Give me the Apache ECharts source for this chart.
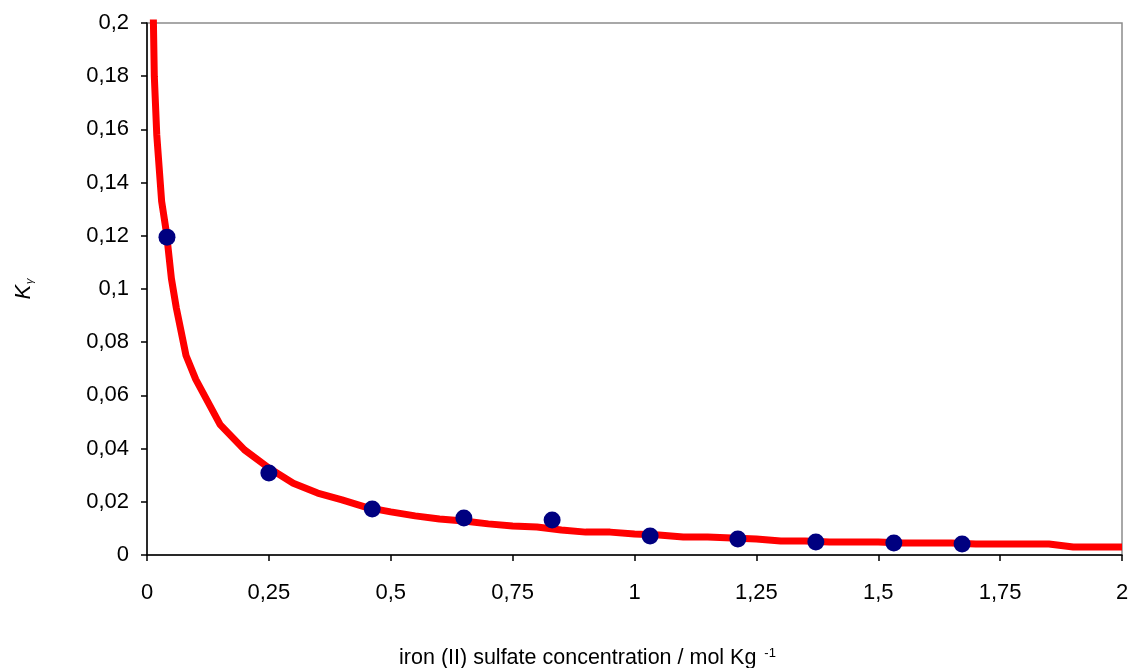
<!DOCTYPE html>
<html>
<head>
<meta charset="utf-8">
<title>K gamma vs iron (II) sulfate concentration</title>
<script src="https://cdn.jsdelivr.net/npm/echarts@6/dist/echarts.min.js"></script>
<style>
  html, body { margin: 0; padding: 0; background: #fff; }
  #chart { width: 1134px; height: 668px; }
</style>
</head>
<body>
<div id="chart"></div>
<script>
// fitted curve (red line)
var curveX = [0.01, 0.015, 0.02, 0.03, 0.04, 0.05, 0.06, 0.07, 0.08, 0.1, 0.15, 0.2, 0.25, 0.3, 0.35, 0.4, 0.45, 0.5,
  0.55, 0.6, 0.65, 0.7, 0.75, 0.8, 0.85, 0.9, 0.95, 1.0, 1.05, 1.1, 1.15, 1.2, 1.25, 1.3, 1.35, 1.4, 1.45, 1.5,
  1.55, 1.6, 1.65, 1.7, 1.75, 1.8, 1.85, 1.9, 1.95, 2.0]
var curveY = [0.235, 0.18, 0.158, 0.133, 0.121, 0.104, 0.093, 0.084, 0.075, 0.066, 0.049, 0.0395, 0.0327, 0.027, 0.0233, 0.0207, 0.0179, 0.0162,
  0.0147, 0.0135, 0.0128, 0.0117, 0.0109, 0.0105, 0.0094, 0.0086, 0.0086, 0.0079, 0.0075, 0.0068, 0.0068, 0.0064, 0.006, 0.0053, 0.0053, 0.0049, 0.0049, 0.0049,
  0.0045, 0.0045, 0.0045, 0.0041, 0.0041, 0.0041, 0.0041, 0.003, 0.003, 0.003]

// measured points (navy dots)
var pointX = [0.041, 0.25, 0.462, 0.65, 0.831, 1.032, 1.212, 1.372, 1.532, 1.672]
var pointY = [0.1195, 0.0308, 0.0173, 0.0139, 0.0132, 0.0071, 0.006, 0.0049, 0.0045, 0.0041]

function comma(v) {
  return parseFloat(v.toFixed(4)).toString().replace('.', ',')
}

var chart = echarts.init(document.getElementById('chart'))
var font = 'Arial, "Liberation Sans", sans-serif'

chart.setOption({
  animation: false,
  grid: {
    left: 147,
    right: 12,
    top: 23,
    bottom: 113,
    outerBoundsMode: 'none',
    show: true,
    borderColor: '#8c8c8c',
    borderWidth: 1.5
  },
  xAxis: {
    type: 'value',
    min: 0,
    max: 2,
    interval: 0.25,
    splitLine: { show: false },
    axisLine: { lineStyle: { color: '#000', width: 1.5 } },
    axisTick: { lineStyle: { color: '#000', width: 1.5 }, length: 6 },
    axisLabel: {
      color: '#000',
      fontFamily: font,
      fontSize: 22,
      margin: 27,
      formatter: comma
    },
    name: '{t|iron (II) sulfate concentration / mol Kg }{s|-1}',
    nameLocation: 'middle',
    nameGap: 92,
    nameTextStyle: {
      padding: [0, 94, 0, 0],
      rich: {
        t: { fontFamily: font, fontSize: 21.5, color: '#000' },
        s: { fontFamily: font, fontSize: 13, color: '#000', verticalAlign: 'top', padding: [0, 0, 10, 2] }
      }
    }
  },
  yAxis: {
    type: 'value',
    min: 0,
    max: 0.2,
    interval: 0.02,
    splitLine: { show: false },
    axisLine: { show: true, lineStyle: { color: '#000', width: 1.5 } },
    axisTick: { show: true, lineStyle: { color: '#000', width: 1.5 }, length: 6 },
    axisLabel: {
      color: '#000',
      fontFamily: font,
      fontSize: 22,
      margin: 18,
      formatter: comma
    },
    name: '{k|K}{g|γ}',
    nameLocation: 'middle',
    nameRotate: 90,
    nameGap: 112,
    nameTextStyle: {
      rich: {
        k: { fontFamily: font, fontSize: 22, fontStyle: 'italic', color: '#000' },
        g: { fontFamily: font, fontSize: 11, fontStyle: 'italic', color: '#000', verticalAlign: 'bottom', padding: [10, 0, 0, 1] }
      }
    }
  },
  series: [
    {
      type: 'line',
      data: curveX.map(function (x, i) { return [x, curveY[i]] }),
      showSymbol: false,
      clip: true,
      lineStyle: { color: '#ff0000', width: 7 },
      z: 2
    },
    {
      type: 'scatter',
      data: pointX.map(function (x, i) { return [x, pointY[i]] }),
      symbol: 'circle',
      symbolSize: 17,
      itemStyle: { color: '#000080', opacity: 1 },
      z: 3
    }
  ]
})
</script>
</body>
</html>
